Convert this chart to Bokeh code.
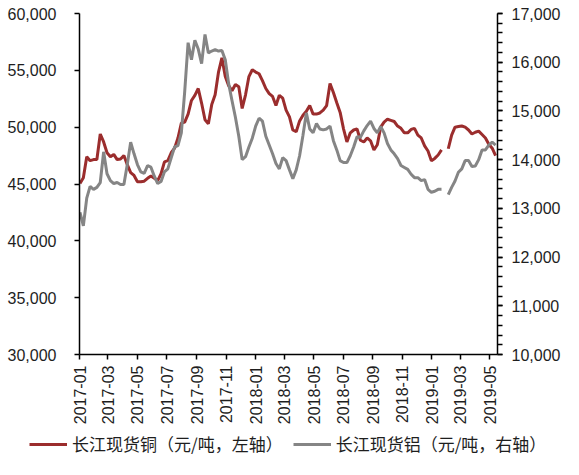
import math
import pandas as pd
from bokeh.plotting import figure
from bokeh.layouts import column, row
from bokeh.models import (Range1d, LinearAxis, NumeralTickFormatter, DatetimeTickFormatter,
                          MonthsTicker, SingleIntervalTicker, Legend, LegendItem, ColumnDataSource)
from bokeh.embed import file_html
from bokeh.resources import INLINE

NaN = float("nan")

# weekly observations starting on this date
start_date = "2017-01-02"

# 长江现货铜 (元/吨) – left axis
copper = [
    45050, 45550, 47400, 47050, 47150, 47150, 49400, 48700, 47750, 47400,
    47600, 47150, 47200, 47500, 46700, 46000, 45750, 45200, 45200, 45250,
    45500, 45700, 45500, 45300, 45900, 46950, 47050, 47750, 48150, 49050,
    50350, 50450, 51150, 52350, 52800, 53400, 52100, 50650, 50300, 52000,
    52850, 54850, 56100, 54450, 53650, 53200, 53750, 53550, 51650, 52850,
    54450, 55050, 54850, 54700, 54100, 53400, 52950, 52700, 51900, 52800,
    52550, 51500, 50900, 49750, 49600, 50550, 51050, 51400, 51900, 51150,
    51150, 51250, 51500, 51900, 53850, 53050, 52150, 51300, 49850, 48700,
    49500, 49750, 49850, 48850, 48700, 49050, 48800, 48000, 48450, 50000,
    50450, 50700, 50600, 50500, 50100, 49900, 49500, 49500, 49800, 49900,
    49300, 49050, 48350, 47900, 47050, 47250, 47550, 48000, NaN, 48100,
    49300, 50000, 50050, 50100, 50000, 49750, 49400, 49550, 49650, 49350,
    49050, 48500, 48150, 47500,
]

# 长江现货铝 (元/吨) – right axis
aluminium = [
    12920, 12640, 13210, 13450, 13390, 13430, 13530, 14160, 13710, 13570,
    13510, 13530, 13490, 13490, 13900, 14360, 14120, 13900, 13750, 13720,
    13875, 13845, 13660, 13510, 13550, 13750, 13810, 14040, 14260, 14290,
    14550, 15400, 16400, 16050, 16450, 16270, 15970, 16570, 16190, 16230,
    16260, 16230, 16240, 16050, 15560, 15210, 14870, 14480, 14000, 14060,
    14260, 14440, 14690, 14850, 14790, 14480, 14300, 14120, 13920, 13810,
    14040, 13980, 13790, 13610, 13790, 14080, 14500, 14960, 14630, 14550,
    14740, 14630, 14610, 14630, 14690, 14390, 14200, 13980, 13940, 13940,
    14080, 14260, 14470, 14460, 14590, 14700, 14790, 14640, 14550, 14680,
    14550, 14330, 14200, 14120, 14020, 13880, 13840, 13800, 13700, 13630,
    13630, 13570, 13590, 13390, 13330, 13350, 13390, 13390, NaN, 13280,
    13430, 13560, 13740, 13810, 13980, 13980, 13860, 13870, 14000, 14200,
    14200, 14300, 14360, 14300,
]

copper_label = "长江现货铜（元/吨，左轴）"
aluminium_label = "长江现货铝（元/吨，右轴）"

x_start, x_end = "2017-01-01", "2019-05-17"
left_lim = (30000, 60000)
right_lim = (10000, 17000)

dates = pd.date_range(start_date, periods=len(copper), freq="7D")
src = ColumnDataSource(dict(date=dates, cu=copper, al=aluminium))

RED = "#9B2D2D"
GREY = "#858585"
TXT = "#1e1e1e"

p = figure(width=563, height=427, x_axis_type="datetime",
           x_range=Range1d(pd.Timestamp(x_start), pd.Timestamp(x_end)),
           y_range=Range1d(*left_lim),
           output_backend="svg", toolbar_location=None,
           min_border_left=79, min_border_right=61, min_border_top=13, min_border_bottom=70)
p.extra_y_ranges = {"right": Range1d(*right_lim)}

r_cu = p.line("date", "cu", source=src, line_color=RED, line_width=3)
r_al = p.line("date", "al", source=src, line_color=GREY, line_width=3, y_range_name="right")

p.xgrid.visible = False
p.ygrid.visible = False
p.outline_line_color = None

# left axis
ya = p.yaxis[0]
ya.ticker = SingleIntervalTicker(interval=5000, num_minor_ticks=0)
ya.formatter = NumeralTickFormatter(format="0,0")

# right axis
ra = LinearAxis(y_range_name="right",
                ticker=SingleIntervalTicker(interval=1000, num_minor_ticks=5),
                formatter=NumeralTickFormatter(format="0,0"))
p.add_layout(ra, "right")

# x axis
xa = p.xaxis[0]
xa.ticker = MonthsTicker(months=[0, 2, 4, 6, 8, 10])
xa.formatter = DatetimeTickFormatter(months="%Y-%m", days="%Y-%m", years="%Y-%m")
xa.major_label_orientation = math.pi / 2

for ax in (ya, ra, xa):
    ax.axis_line_color = "black"
    ax.axis_line_width = 1.5
    ax.major_tick_line_color = "black"
    ax.major_tick_line_width = 1.5
    ax.major_tick_in = 0
    ax.major_tick_out = 5
    ax.minor_tick_in = 0
    ax.minor_tick_out = 0
    ax.major_label_text_font = "Liberation Sans"
    ax.major_label_text_font_size = "16px"
    ax.major_label_text_color = TXT

ra.minor_tick_out = 5
ra.minor_tick_line_color = "black"
ra.minor_tick_line_width = 1.5
ya.major_label_standoff = 18
ra.major_label_standoff = 9
xa.major_label_standoff = 6

# legend strip below the chart (its lines use the same data, outside the strip's ranges)
lg = figure(width=563, height=32, x_axis_type=None, y_axis_type=None,
            x_range=Range1d(0, 1), y_range=Range1d(0, 1),
            output_backend="svg", toolbar_location=None,
            min_border_left=0, min_border_right=0, min_border_top=0, min_border_bottom=0)
lg.outline_line_color = None
lg.xgrid.visible = False
lg.ygrid.visible = False
k_cu = lg.line("date", "cu", source=src, line_color=RED, line_width=3)
k_al = lg.line("date", "al", source=src, line_color=GREY, line_width=3)
legend = Legend(items=[LegendItem(label=copper_label, renderers=[k_cu]),
                       LegendItem(label=aluminium_label, renderers=[k_al])],
                orientation="horizontal", location=(27, 1),
                border_line_alpha=0, background_fill_alpha=0,
                glyph_width=38, glyph_height=18, label_height=18,
                label_standoff=5, spacing=10, padding=2, margin=0,
                label_text_font="Noto Sans CJK SC", label_text_font_size="17px",
                label_text_color=TXT)
lg.add_layout(legend)

open("out.html", "w").write(file_html(column(p, row(lg)), INLINE))
